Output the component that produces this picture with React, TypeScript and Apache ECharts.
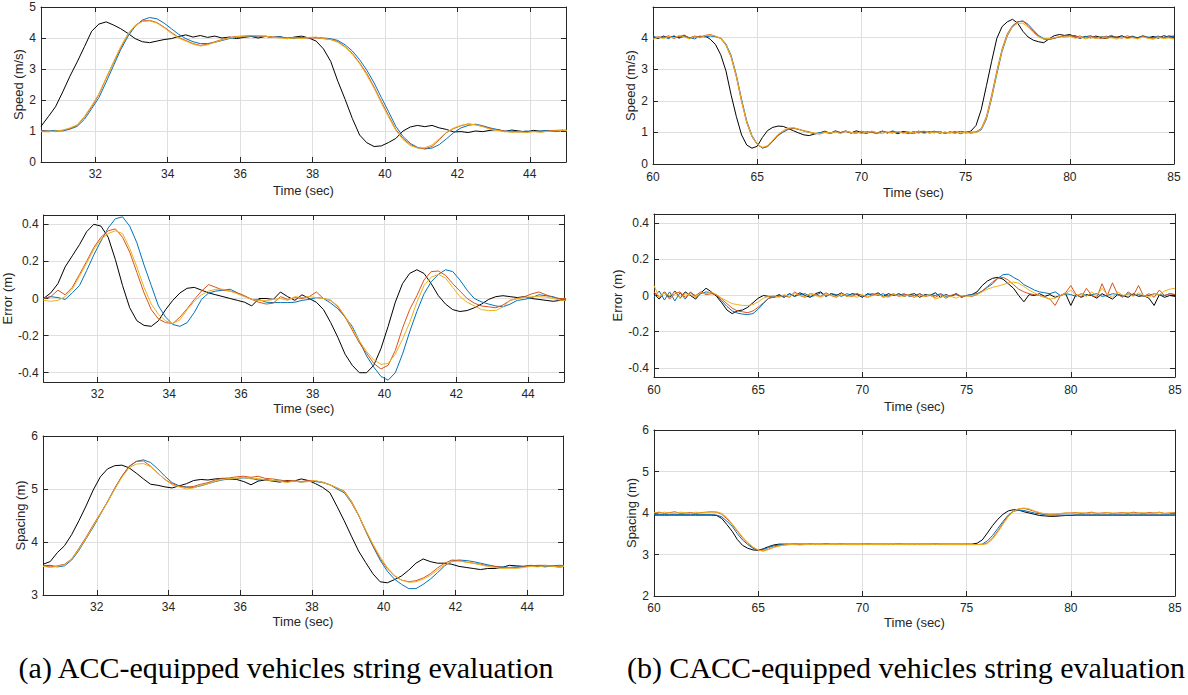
import React, { useEffect, useRef } from "react";
import * as echarts from "echarts";

// ---------------- DATA ----------------
// (a) ACC, sampled every 0.2 s
const timeAcc = [
  30.5, 30.7, 30.9, 31.1, 31.3, 31.5, 31.7, 31.9, 32.1, 32.3,
  32.5, 32.7, 32.9, 33.1, 33.3, 33.5, 33.7, 33.9, 34.1, 34.3,
  34.5, 34.7, 34.9, 35.1, 35.3, 35.5, 35.7, 35.9, 36.1, 36.3,
  36.5, 36.7, 36.9, 37.1, 37.3, 37.5, 37.7, 37.9, 38.1, 38.3,
  38.5, 38.7, 38.9, 39.1, 39.3, 39.5, 39.7, 39.9, 40.1, 40.3,
  40.5, 40.7, 40.9, 41.1, 41.3, 41.5, 41.7, 41.9, 42.1, 42.3,
  42.5, 42.7, 42.9, 43.1, 43.3, 43.5, 43.7, 43.9, 44.1, 44.3,
  44.5, 44.7, 44.9, 45.1,
];

const accSpeedBlack = [
  1.15, 1.46, 1.78, 2.26, 2.77, 3.23, 3.72, 4.22, 4.45, 4.52,
  4.42, 4.3, 4.15, 3.98, 3.88, 3.85, 3.9, 3.95, 3.98, 4.05,
  4.1, 4.03, 4.08, 4.02, 4.06, 4.0, 4.03, 3.98, 4.02, 4.05,
  4.0, 4.05, 4.02, 4.04, 3.98, 4.03, 4.06, 4.0, 3.9, 3.65,
  3.25, 2.6, 2.02, 1.4, 0.87, 0.62, 0.5, 0.52, 0.63, 0.76,
  1.0, 1.13, 1.18, 1.14, 1.18, 1.1, 1.05, 0.97, 0.98, 0.95,
  1.0, 0.98, 1.02, 1.05, 0.98, 1.03, 1.0, 0.97, 1.02, 0.99,
  1.01, 0.98, 1.02, 0.97,
];
const accSpeedBlue = [
  1.02, 1.0, 1.02, 1.0, 1.06, 1.15, 1.38, 1.72, 2.08, 2.58,
  3.1, 3.62, 4.05, 4.38, 4.58, 4.66, 4.62, 4.48, 4.3, 4.12,
  3.98, 3.88, 3.82, 3.82, 3.86, 3.92, 3.98, 4.02, 4.04, 4.06,
  4.03, 4.06, 4.02, 4.04, 4.0, 3.98, 4.02, 4.0, 4.02, 4.0,
  3.98, 3.92, 3.78, 3.58, 3.3, 2.96, 2.55, 2.08, 1.62, 1.15,
  0.82, 0.6, 0.47, 0.42, 0.45, 0.56, 0.75, 0.95, 1.1, 1.18,
  1.22, 1.17, 1.1, 1.05, 1.0, 1.0, 0.97, 1.0, 0.98, 1.0,
  1.02, 0.99, 1.02, 0.98,
];
const accSpeedOrange = [
  1.0, 1.0, 0.98, 1.02, 1.08, 1.18, 1.45, 1.78, 2.18, 2.7,
  3.2, 3.68, 4.12, 4.4, 4.55, 4.57, 4.5, 4.35, 4.18, 4.02,
  3.92, 3.82, 3.76, 3.8, 3.88, 3.95, 4.02, 4.05, 4.06, 4.08,
  4.07, 4.05, 4.03, 4.02, 4.0, 4.02, 4.0, 4.0, 4.0, 3.98,
  3.95, 3.88, 3.72, 3.5, 3.2, 2.85, 2.42, 1.95, 1.5, 1.05,
  0.76, 0.56, 0.46, 0.43, 0.5, 0.72, 0.95, 1.08, 1.17, 1.23,
  1.2, 1.15, 1.08, 1.03, 1.0, 0.97, 0.98, 0.96, 0.99, 0.97,
  1.0, 1.02, 1.03, 1.02,
];
const accSpeedYellow = [
  0.98, 0.97, 1.0, 1.03, 1.1, 1.2, 1.47, 1.82, 2.2, 2.72,
  3.22, 3.72, 4.13, 4.4, 4.53, 4.55, 4.48, 4.33, 4.15, 4.0,
  3.9, 3.8, 3.74, 3.78, 3.86, 3.94, 4.0, 4.04, 4.06, 4.07,
  4.08, 4.06, 4.02, 4.0, 3.98, 4.0, 3.98, 4.02, 4.03, 3.98,
  3.95, 3.86, 3.7, 3.47, 3.17, 2.8, 2.38, 1.9, 1.45, 1.02,
  0.72, 0.53, 0.45, 0.46, 0.55, 0.75, 0.96, 1.1, 1.18, 1.22,
  1.2, 1.14, 1.06, 1.02, 0.98, 0.96, 0.97, 0.95, 0.98, 0.96,
  0.99, 1.0, 1.02, 1.0,
];

const accErrBlack = [
  0.0, 0.03, 0.08, 0.17, 0.23, 0.29, 0.36, 0.4, 0.39, 0.33,
  0.21, 0.07, -0.05, -0.12, -0.145, -0.15, -0.12, -0.06, -0.01, 0.03,
  0.055, 0.06, 0.045, 0.03, 0.02, 0.01, 0.0, -0.01, -0.02, -0.04,
  0.0, 0.0, -0.005, 0.035, 0.01, -0.01, 0.02, 0.0, -0.02, -0.06,
  -0.13, -0.21, -0.3, -0.36, -0.4, -0.4, -0.36, -0.27, -0.15, -0.02,
  0.08, 0.135, 0.155, 0.135, 0.08, 0.015, -0.03, -0.06, -0.07, -0.065,
  -0.05, -0.03, -0.005, 0.01, 0.015, 0.01, 0.005, 0.01, 0.0, -0.005,
  -0.01, -0.015, -0.01, -0.01,
];
const accErrBlue = [
  0.0, 0.01, 0.005, -0.005, 0.03, 0.07, 0.15, 0.235, 0.31, 0.38,
  0.43, 0.44, 0.39, 0.3, 0.18, 0.07, -0.04, -0.1, -0.14, -0.15,
  -0.13, -0.075, -0.005, 0.03, 0.04, 0.045, 0.05, 0.03, 0.012, -0.005,
  -0.005, -0.02, -0.022, -0.022, -0.022, -0.02, -0.01, -0.005, 0.005, 0.0,
  -0.025, -0.055, -0.1, -0.15, -0.23, -0.31, -0.37, -0.42, -0.44, -0.4,
  -0.3, -0.18, -0.07, 0.025, 0.09, 0.13, 0.155, 0.145, 0.1, 0.045,
  0.0, -0.018, -0.03, -0.04, -0.045, -0.03, -0.01, -0.005, 0.005, 0.02,
  0.015, 0.01, -0.005, -0.005,
];
const accErrOrange = [
  0.0, 0.01, 0.045, 0.02, 0.06, 0.13, 0.2, 0.275, 0.33, 0.365,
  0.375, 0.33, 0.25, 0.14, 0.03, -0.06, -0.11, -0.13, -0.135, -0.1,
  -0.055, -0.005, 0.04, 0.075, 0.06, 0.045, 0.04, 0.03, 0.015, -0.005,
  -0.02, -0.03, -0.025, 0.01, -0.005, 0.005, 0.0, 0.01, 0.035, 0.0,
  -0.01, -0.045, -0.1, -0.17, -0.24, -0.295, -0.35, -0.38, -0.36, -0.28,
  -0.16, -0.06, 0.015, 0.1, 0.145, 0.148, 0.125, 0.08, 0.04, 0.0,
  -0.025, -0.04, -0.045, -0.05, -0.035, -0.01, 0.0, 0.01, 0.025, 0.035,
  0.02, 0.005, 0.0, 0.0,
];
const accErrYellow = [
  -0.01, -0.015, -0.01, 0.01, 0.05, 0.12, 0.19, 0.265, 0.32, 0.35,
  0.365, 0.35, 0.27, 0.17, 0.06, -0.03, -0.085, -0.12, -0.135, -0.115,
  -0.06, -0.015, 0.02, 0.04, 0.05, 0.05, 0.04, 0.025, 0.01, -0.005,
  -0.01, -0.012, -0.005, 0.0, -0.01, 0.01, 0.005, 0.01, 0.005, 0.0,
  -0.01, -0.04, -0.095, -0.16, -0.23, -0.285, -0.33, -0.355, -0.35, -0.3,
  -0.22, -0.13, -0.02, 0.07, 0.115, 0.13, 0.11, 0.06, 0.01, -0.02,
  -0.04, -0.06, -0.065, -0.065, -0.045, -0.01, 0.0, 0.005, 0.01, 0.01,
  0.008, 0.0, -0.01, -0.01,
];

const accGapBlack = [
  3.58, 3.63, 3.8, 3.93, 4.14, 4.4, 4.68, 4.98, 5.23, 5.38,
  5.44, 5.45, 5.4, 5.3, 5.19, 5.09, 5.07, 5.04, 5.02, 5.06,
  5.1, 5.16, 5.18, 5.17, 5.19, 5.2, 5.19, 5.18, 5.14, 5.08,
  5.15, 5.17, 5.15, 5.13, 5.16, 5.15, 5.19, 5.16, 5.1, 5.03,
  4.93, 4.67, 4.4, 4.11, 3.83, 3.61, 3.4, 3.25, 3.23, 3.29,
  3.36, 3.47, 3.6, 3.68, 3.63, 3.6, 3.6, 3.58, 3.54, 3.52,
  3.5, 3.48, 3.5, 3.5, 3.52, 3.56, 3.55, 3.54, 3.55, 3.54,
  3.55, 3.54, 3.53, 3.54,
];
const accGapBlue = [
  3.55, 3.56, 3.53, 3.55, 3.66, 3.84, 4.06, 4.28, 4.52, 4.76,
  5.0, 5.24, 5.42, 5.52, 5.55, 5.5, 5.38, 5.24, 5.12, 5.06,
  5.04, 5.03, 5.06, 5.1, 5.14, 5.17, 5.19, 5.2, 5.21, 5.2,
  5.17, 5.18, 5.16, 5.15, 5.14, 5.15, 5.13, 5.15, 5.14, 5.12,
  5.08, 5.0, 4.93, 4.74, 4.5, 4.2, 3.92, 3.66, 3.45, 3.3,
  3.2, 3.12, 3.12, 3.2, 3.3, 3.42, 3.55, 3.64, 3.66, 3.65,
  3.63, 3.6, 3.57, 3.54, 3.53, 3.52, 3.53, 3.54, 3.56, 3.55,
  3.53, 3.55, 3.56, 3.55,
];
const accGapOrange = [
  3.55, 3.53, 3.55, 3.58, 3.68, 3.88, 4.09, 4.32, 4.54, 4.76,
  5.02, 5.24, 5.43, 5.52, 5.53, 5.43, 5.3, 5.18, 5.1, 5.05,
  5.03, 5.05, 5.09, 5.12, 5.17, 5.2, 5.21, 5.23, 5.24, 5.22,
  5.24, 5.2, 5.19, 5.17, 5.15, 5.16, 5.14, 5.16, 5.15, 5.13,
  5.08, 5.02, 4.96, 4.77, 4.51, 4.22, 3.94, 3.69, 3.5, 3.36,
  3.28, 3.25, 3.27, 3.32, 3.4, 3.51, 3.6, 3.66, 3.65, 3.62,
  3.6, 3.58, 3.55, 3.54, 3.52, 3.51, 3.52, 3.53, 3.55, 3.56,
  3.56, 3.55, 3.55, 3.56,
];
const accGapYellow = [
  3.54, 3.52, 3.54, 3.57, 3.68, 3.86, 4.07, 4.3, 4.53, 4.75,
  5.0, 5.22, 5.4, 5.47, 5.48, 5.42, 5.3, 5.18, 5.08, 5.04,
  5.0, 5.02, 5.07, 5.1, 5.15, 5.18, 5.2, 5.2, 5.22, 5.19,
  5.2, 5.17, 5.16, 5.15, 5.12, 5.15, 5.13, 5.14, 5.16, 5.12,
  5.08, 5.02, 4.95, 4.75, 4.5, 4.22, 3.96, 3.72, 3.52, 3.37,
  3.28, 3.24, 3.25, 3.3, 3.37, 3.47, 3.57, 3.63, 3.64, 3.62,
  3.6, 3.57, 3.54, 3.52, 3.5, 3.51, 3.5, 3.52, 3.54, 3.53,
  3.55, 3.54, 3.53, 3.55,
];

// (b) CACC, sampled every 0.25 s
const timeCacc = [
  60, 60.25, 60.5, 60.75, 61, 61.25, 61.5, 61.75, 62, 62.25,
  62.5, 62.75, 63, 63.25, 63.5, 63.75, 64, 64.25, 64.5, 64.75,
  65, 65.25, 65.5, 65.75, 66, 66.25, 66.5, 66.75, 67, 67.25,
  67.5, 67.75, 68, 68.25, 68.5, 68.75, 69, 69.25, 69.5, 69.75,
  70, 70.25, 70.5, 70.75, 71, 71.25, 71.5, 71.75, 72, 72.25,
  72.5, 72.75, 73, 73.25, 73.5, 73.75, 74, 74.25, 74.5, 74.75,
  75, 75.25, 75.5, 75.75, 76, 76.25, 76.5, 76.75, 77, 77.25,
  77.5, 77.75, 78, 78.25, 78.5, 78.75, 79, 79.25, 79.5, 79.75,
  80, 80.25, 80.5, 80.75, 81, 81.25, 81.5, 81.75, 82, 82.25,
  82.5, 82.75, 83, 83.25, 83.5, 83.75, 84, 84.25, 84.5, 84.75,
  85,
];

const caccSpeedBlack = [
  4.02, 3.97, 4.05, 3.99, 4.04, 4.0, 4.07, 3.98, 4.03, 4.01,
  4.05, 3.95, 3.78, 3.46, 2.95, 2.18, 1.5, 0.92, 0.6, 0.5,
  0.56, 0.84, 1.06, 1.16, 1.2, 1.19, 1.12, 1.05, 0.98, 0.92,
  0.9, 0.95, 0.98, 1.04, 0.97, 1.05, 0.99, 1.03, 0.98, 1.05,
  1.0, 0.97, 1.03, 0.98, 1.04, 0.99, 1.02, 0.96, 1.03, 1.0,
  0.97, 1.04, 0.98, 1.02, 0.99, 1.03, 0.97, 1.01, 0.98, 1.03,
  1.0, 1.04, 1.22, 1.72, 2.48, 3.25, 3.98, 4.35, 4.5, 4.58,
  4.46, 4.2, 4.02, 3.92, 3.87, 3.84, 3.96, 4.06, 4.1, 4.07,
  4.1, 4.02, 3.98, 4.04, 3.99, 4.05, 4.0, 3.97, 4.04, 4.01,
  4.06, 3.98, 4.03, 4.0, 4.05, 3.99, 4.04, 3.98, 4.06, 4.02,
  4.05,
];
const caccSpeedBlue = [
  4.05, 3.99, 4.03, 3.97, 4.06, 3.98, 4.04, 4.0, 3.96, 4.05,
  4.02, 4.05, 4.03, 3.99, 3.8, 3.44, 2.82, 2.05, 1.36, 0.9,
  0.64, 0.5, 0.55, 0.72, 0.9, 1.01, 1.1, 1.13, 1.09, 1.04,
  1.0, 0.96, 0.99, 1.03, 0.96, 1.02, 0.98, 1.04, 1.0, 0.97,
  1.04, 0.99, 1.02, 0.97, 1.03, 0.98, 1.05, 0.99, 1.01, 0.96,
  1.03, 0.98, 1.02, 0.99, 1.04, 0.97, 1.01, 0.98, 1.03, 0.96,
  1.01, 0.98, 1.0, 1.08, 1.42, 2.08, 2.85, 3.56, 4.05, 4.35,
  4.5, 4.53, 4.42, 4.24, 4.07, 3.97, 3.95, 3.98, 4.02, 4.06,
  4.04, 4.07, 3.99, 4.03, 4.06, 3.98, 4.04, 4.01, 4.07, 3.99,
  4.03, 4.0, 4.05, 3.98, 4.06, 4.02, 4.0, 4.05, 3.99, 4.06,
  4.03,
];
const caccSpeedOrange = [
  3.98, 4.03, 4.0, 4.06, 3.97, 4.04, 4.08, 3.99, 4.05, 4.02,
  4.07, 4.1, 4.04, 3.97, 3.76, 3.38, 2.75, 1.98, 1.3, 0.86,
  0.62, 0.51, 0.57, 0.75, 0.92, 1.03, 1.12, 1.14, 1.1, 1.05,
  1.02, 0.97, 0.95, 1.0, 0.97, 1.03, 1.0, 1.05, 0.98, 1.02,
  0.97, 1.03, 1.0, 0.96, 1.04, 1.0, 0.98, 1.03, 0.99, 1.02,
  0.97, 1.01, 1.04, 0.98, 1.0, 1.03, 0.97, 1.02, 0.99, 1.03,
  0.98, 1.0, 1.02, 1.12, 1.5, 2.18, 2.95, 3.64, 4.12, 4.38,
  4.5, 4.52, 4.38, 4.2, 4.04, 3.95, 3.94, 3.98, 4.03, 4.05,
  4.07, 4.02, 4.05, 3.98, 4.04, 4.01, 3.97, 4.05, 4.0, 4.03,
  3.98, 4.06, 4.01, 3.97, 4.04, 4.0, 3.96, 4.03, 3.99, 4.02,
  3.98,
];
const caccSpeedYellow = [
  3.95, 4.01, 3.97, 4.03, 3.99, 4.07, 4.02, 3.96, 4.04, 3.99,
  4.06, 4.08, 4.05, 3.98, 3.78, 3.4, 2.78, 2.0, 1.32, 0.88,
  0.63, 0.53, 0.58, 0.76, 0.94, 1.06, 1.14, 1.15, 1.1, 1.04,
  1.0, 0.98, 0.96, 1.01, 0.98, 1.02, 0.96, 1.03, 1.0, 0.97,
  1.02, 0.98, 1.04, 0.99, 0.96, 1.02, 0.99, 1.03, 0.97, 1.01,
  0.98, 1.03, 0.96, 1.01, 0.99, 1.02, 0.98, 1.0, 0.97, 1.01,
  0.99, 1.02, 0.99, 1.1, 1.46, 2.12, 2.9, 3.6, 4.08, 4.34,
  4.45, 4.46, 4.33, 4.16, 4.02, 3.96, 3.97, 4.0, 4.03, 4.01,
  4.04, 3.98, 4.02, 3.96, 4.01, 3.97, 4.03, 3.98, 4.0, 3.95,
  4.02, 3.97, 4.0, 3.96, 4.02, 3.98, 3.95, 4.01, 3.97, 3.99,
  3.96,
];

const caccErrBlack = [
  0.01, -0.02, 0.02, -0.01, 0.025, -0.015, 0.02, 0.0, -0.02, 0.015,
  0.04, 0.02, -0.005, -0.04, -0.08, -0.1, -0.085, -0.08, -0.065, -0.04,
  -0.015, 0.0, -0.005, -0.01, 0.005, -0.01, 0.01, -0.005, 0.015, 0.0,
  -0.01, 0.01, 0.02, -0.005, 0.01, 0.0, 0.015, -0.005, 0.01, 0.005,
  -0.01, 0.01, 0.0, 0.015, -0.005, 0.01, 0.0, 0.01, -0.005, 0.005,
  0.01, -0.01, 0.005, 0.0, 0.015, -0.01, 0.005, -0.005, 0.01, -0.01,
  0.0, 0.005, 0.02, 0.055, 0.08, 0.095, 0.1, 0.09, 0.065, 0.04,
  0.0, -0.035, 0.005, 0.0, 0.01, -0.005, 0.005, -0.01, 0.0, 0.01,
  -0.055, 0.005, -0.01, 0.005, 0.0, -0.015, 0.01, -0.005, -0.02, 0.005,
  0.0, -0.01, 0.01, -0.005, 0.0, -0.015, -0.055, 0.005, -0.01, 0.0,
  -0.005,
];
const caccErrBlue = [
  -0.01, 0.025, -0.025, 0.02, -0.03, 0.015, -0.02, 0.02, -0.01, 0.01,
  0.02, 0.015, 0.0, -0.03, -0.06, -0.085, -0.097, -0.103, -0.105, -0.1,
  -0.075, -0.045, -0.015, -0.008, 0.0, -0.01, 0.01, -0.005, 0.005, 0.01,
  -0.005, 0.0, 0.015, -0.005, 0.01, 0.005, -0.005, 0.01, 0.0, 0.01,
  -0.005, 0.005, 0.01, 0.0, 0.01, -0.005, 0.005, 0.0, 0.01, -0.005,
  0.0, 0.01, -0.005, 0.005, 0.0, 0.01, -0.005, 0.0, 0.005, -0.005,
  0.0, 0.005, 0.01, 0.025, 0.045, 0.065, 0.095, 0.115, 0.118, 0.1,
  0.085, 0.06, 0.045, 0.03, 0.02, 0.015, 0.01, 0.02, 0.0, 0.01,
  0.005, -0.005, 0.01, 0.0, 0.005, 0.01, -0.005, 0.0, 0.01, 0.005,
  -0.005, 0.01, 0.0, 0.005, -0.005, 0.0, 0.01, 0.005, 0.0, 0.01,
  0.005,
];
const caccErrOrange = [
  0.02, -0.01, 0.015, -0.02, 0.01, 0.02, -0.01, 0.015, 0.0, 0.02,
  0.005, 0.01, 0.005, -0.02, -0.045, -0.07, -0.085, -0.09, -0.095, -0.085,
  -0.065, -0.04, -0.015, -0.01, -0.005, 0.0, -0.01, 0.02, 0.0, -0.01,
  0.01, 0.005, -0.005, 0.015, 0.0, -0.01, 0.01, 0.0, -0.005, 0.01,
  0.0, -0.01, 0.005, 0.01, -0.01, 0.0, 0.01, -0.005, 0.005, 0.0,
  -0.01, 0.01, -0.005, 0.0, -0.01, 0.005, -0.015, 0.0, 0.01, -0.005,
  0.0, -0.005, 0.005, 0.025, 0.05, 0.075, 0.095, 0.1, 0.085, 0.06,
  0.035, 0.02, 0.01, 0.005, 0.0, -0.01, -0.02, -0.055, 0.0, 0.015,
  0.055, 0.005, -0.01, 0.04, 0.0, -0.01, 0.065, 0.0, 0.07, 0.005,
  -0.01, 0.02, 0.0, 0.055, -0.005, 0.01, -0.01, 0.03, 0.0, 0.01,
  0.005,
];
const caccErrYellow = [
  0.055, -0.01, 0.015, 0.0, 0.02, -0.015, 0.01, 0.005, -0.01, 0.015,
  0.01, 0.02, 0.005, -0.015, -0.03, -0.045, -0.05, -0.055, -0.055, -0.05,
  -0.035, -0.015, -0.005, 0.0, -0.01, 0.005, -0.005, 0.01, 0.0, -0.005,
  0.01, 0.0, -0.01, 0.005, 0.0, -0.005, 0.01, -0.005, 0.0, -0.01,
  0.005, -0.01, 0.0, 0.005, -0.005, -0.01, 0.005, 0.0, -0.005, 0.005,
  -0.01, 0.0, -0.005, 0.005, -0.02, -0.01, 0.0, -0.005, -0.015, 0.0,
  -0.005, 0.0, 0.005, 0.02, 0.035, 0.045, 0.052, 0.06, 0.07, 0.074,
  0.068, 0.05, 0.03, 0.015, 0.0, -0.01, -0.02, -0.015, 0.0, 0.01,
  0.03, 0.0, 0.01, -0.005, 0.02, 0.0, 0.04, 0.005, -0.01, 0.02,
  0.0, 0.01, -0.005, 0.015, 0.0, -0.01, 0.01, 0.005, 0.025, 0.035,
  0.04,
];

const caccGapBlack = [
  3.95, 3.95, 3.95, 3.95, 3.95, 3.95, 3.95, 3.95, 3.95, 3.95,
  3.95, 3.95, 3.94, 3.87, 3.72, 3.56, 3.36, 3.22, 3.15, 3.11,
  3.1, 3.14, 3.19, 3.23, 3.25, 3.25, 3.25, 3.25, 3.25, 3.25,
  3.25, 3.25, 3.25, 3.25, 3.25, 3.25, 3.25, 3.25, 3.25, 3.25,
  3.25, 3.25, 3.25, 3.25, 3.25, 3.25, 3.25, 3.25, 3.25, 3.25,
  3.25, 3.25, 3.25, 3.25, 3.25, 3.25, 3.25, 3.25, 3.25, 3.25,
  3.25, 3.25, 3.27, 3.35, 3.52, 3.7, 3.85, 3.97, 4.05, 4.08,
  4.07, 4.03, 4.0, 3.97, 3.94, 3.93, 3.92, 3.92, 3.93, 3.94,
  3.94, 3.95, 3.95, 3.95, 3.95, 3.95, 3.95, 3.95, 3.95, 3.95,
  3.95, 3.95, 3.95, 3.95, 3.95, 3.95, 3.95, 3.95, 3.95, 3.95,
  3.95,
];
const caccGapBlue = [
  3.96, 3.96, 3.96, 3.96, 3.96, 3.96, 3.96, 3.96, 3.96, 3.96,
  3.96, 3.96, 3.95, 3.91, 3.8, 3.68, 3.5, 3.35, 3.24, 3.15,
  3.1, 3.12, 3.17, 3.21, 3.23, 3.24, 3.24, 3.24, 3.24, 3.24,
  3.24, 3.24, 3.24, 3.24, 3.24, 3.24, 3.24, 3.24, 3.24, 3.24,
  3.24, 3.24, 3.24, 3.24, 3.24, 3.24, 3.24, 3.24, 3.24, 3.24,
  3.24, 3.24, 3.24, 3.24, 3.24, 3.24, 3.24, 3.24, 3.24, 3.24,
  3.24, 3.24, 3.24, 3.25, 3.33, 3.46, 3.63, 3.8, 3.95, 4.04,
  4.07, 4.06, 4.03, 4.0, 3.98, 3.96, 3.95, 3.95, 3.95, 3.95,
  3.95, 3.95, 3.95, 3.95, 3.95, 3.95, 3.95, 3.95, 3.95, 3.95,
  3.95, 3.95, 3.95, 3.95, 3.95, 3.95, 3.95, 3.95, 3.95, 3.95,
  3.95,
];
const caccGapOrange = [
  4.0, 4.02, 3.99, 4.01, 4.03, 3.99, 4.0, 4.01, 3.99, 4.01,
  4.02, 4.03, 4.02, 3.97, 3.86, 3.72, 3.56, 3.4, 3.27, 3.17,
  3.1, 3.09, 3.13, 3.18, 3.21, 3.23, 3.24, 3.25, 3.24, 3.24,
  3.25, 3.24, 3.24, 3.26, 3.24, 3.24, 3.25, 3.24, 3.24, 3.24,
  3.24, 3.25, 3.24, 3.24, 3.24, 3.24, 3.24, 3.25, 3.24, 3.24,
  3.24, 3.24, 3.24, 3.24, 3.25, 3.24, 3.24, 3.24, 3.24, 3.24,
  3.24, 3.24, 3.24, 3.24, 3.28, 3.4, 3.57, 3.76, 3.93, 4.05,
  4.1, 4.11, 4.08, 4.04, 4.0, 3.98, 3.97, 3.97, 3.98, 4.0,
  4.0, 4.01, 3.99, 4.0, 4.02, 3.99, 4.0, 4.01, 3.99, 4.0,
  4.01, 3.99, 4.02, 4.0, 3.99, 4.01, 4.0, 4.02, 3.99, 4.0,
  4.01,
];
const caccGapYellow = [
  4.01, 3.99, 4.02, 4.0, 3.99, 4.02, 4.01, 3.98, 4.02, 4.0,
  4.01, 4.02, 4.03, 3.99, 3.89, 3.74, 3.58, 3.42, 3.29, 3.18,
  3.11, 3.08, 3.12, 3.17, 3.2, 3.23, 3.24, 3.24, 3.23, 3.24,
  3.24, 3.24, 3.24, 3.24, 3.24, 3.24, 3.24, 3.24, 3.24, 3.24,
  3.24, 3.24, 3.24, 3.24, 3.24, 3.24, 3.24, 3.24, 3.24, 3.24,
  3.24, 3.24, 3.24, 3.24, 3.24, 3.24, 3.24, 3.24, 3.24, 3.24,
  3.24, 3.24, 3.24, 3.24, 3.26, 3.37, 3.54, 3.73, 3.91, 4.04,
  4.1, 4.12, 4.1, 4.05, 4.01, 3.98, 3.97, 3.98, 3.99, 4.0,
  3.99, 4.0, 4.01, 3.99, 4.0, 4.0, 3.98, 4.01, 4.0, 3.99,
  4.0, 4.01, 3.99, 4.0, 4.01, 3.98, 4.0, 4.01, 3.99, 4.0,
  4.0,
];

// tick values
const ticksAccTime = [32, 34, 36, 38, 40, 42, 44];
const ticksCaccTime = [60, 65, 70, 75, 80, 85];
const ticksSpeedAcc = [0, 1, 2, 3, 4, 5];
const ticksSpeedCacc = [0, 1, 2, 3, 4];
const ticksError = [-0.4, -0.2, 0, 0.2, 0.4];
const ticksGapAcc = [3, 4, 5, 6];
const ticksGapCacc = [2, 3, 4, 5, 6];

const captionA = "(a) ACC-equipped vehicles string evaluation";
const captionB = "(b) CACC-equipped vehicles string evaluation";

// ---------------- STYLE / LAYOUT ----------------
const FONT = '"Liberation Sans", Arial, Helvetica, sans-serif';
const AX = "#262626";
const GRIDC = "#dfdfdf";
const COLORS = ["#000000", "#0072BD", "#D95319", "#EDB120"];

type Panel = {
  box: number[];
  xMin: number; xMax: number; xTicks: number[];
  yMin: number; yMax: number; yTicks: number[];
  yName: string; yGap: number; xLabelMargin: number; xNameGap: number;
  t: number[]; s: number[][];
};

const panels: Panel[] = [
  { box: [41, 7, 525, 155], xMin: 30.5, xMax: 45, xTicks: ticksAccTime, yMin: 0, yMax: 5, yTicks: ticksSpeedAcc,
    yName: "Speed (m/s)", yGap: 14, xLabelMargin: 6, xNameGap: 22, t: timeAcc,
    s: [accSpeedBlack, accSpeedBlue, accSpeedOrange, accSpeedYellow] },
  { box: [43, 215, 521, 167], xMin: 30.5, xMax: 45, xTicks: ticksAccTime, yMin: -0.45, yMax: 0.45, yTicks: ticksError,
    yName: "Error (m)", yGap: 24, xLabelMargin: 6, xNameGap: 20, t: timeAcc,
    s: [accErrBlack, accErrBlue, accErrOrange, accErrYellow] },
  { box: [43, 436, 520, 159], xMin: 30.5, xMax: 45, xTicks: ticksAccTime, yMin: 3, yMax: 6, yTicks: ticksGapAcc,
    yName: "Spacing (m)", yGap: 14, xLabelMargin: 6, xNameGap: 20, t: timeAcc,
    s: [accGapBlack, accGapBlue, accGapOrange, accGapYellow] },
  { box: [653, 7, 521, 157], xMin: 60, xMax: 85, xTicks: ticksCaccTime, yMin: 0, yMax: 4.97, yTicks: ticksSpeedCacc,
    yName: "Speed (m/s)", yGap: 14, xLabelMargin: 7, xNameGap: 22, t: timeCacc,
    s: [caccSpeedBlack, caccSpeedBlue, caccSpeedOrange, caccSpeedYellow] },
  { box: [654, 214, 521, 163], xMin: 60, xMax: 85, xTicks: ticksCaccTime, yMin: -0.45, yMax: 0.45, yTicks: ticksError,
    yName: "Error (m)", yGap: 22, xLabelMargin: 7, xNameGap: 23, t: timeCacc,
    s: [caccErrBlack, caccErrBlue, caccErrOrange, caccErrYellow] },
  { box: [654, 430, 521, 166], xMin: 60, xMax: 85, xTicks: ticksCaccTime, yMin: 2, yMax: 6, yTicks: ticksGapCacc,
    yName: "Spacing (m)", yGap: 15, xLabelMargin: 6, xNameGap: 20, t: timeCacc,
    s: [caccGapBlack, caccGapBlue, caccGapOrange, caccGapYellow] },
];

function buildOption() {
  const grid: any[] = [];
  const xAxis: any[] = [];
  const yAxis: any[] = [];
  const series: any[] = [];
  const line = { show: true, onZero: false, lineStyle: { color: AX, width: 1 } };
  const tick = (vals: number[]) => ({ show: true, inside: true, length: 5, customValues: vals, lineStyle: { color: AX, width: 1 } });
  const label = (vals: number[], margin: number) => ({ show: true, customValues: vals, color: AX, fontSize: 12, fontFamily: FONT, margin });
  const nameStyle = { color: AX, fontSize: 13, fontFamily: FONT };

  panels.forEach((p, i) => {
    grid.push({ left: p.box[0], top: p.box[1], width: p.box[2], height: p.box[3], containLabel: false, show: false });
    xAxis.push({
      type: "value", gridIndex: i, position: "bottom", min: p.xMin, max: p.xMax,
      axisLine: line, axisTick: tick(p.xTicks), axisLabel: label(p.xTicks, p.xLabelMargin),
      splitLine: { show: true, lineStyle: { color: GRIDC, width: 1 } },
      name: "Time (sec)", nameLocation: "middle", nameGap: p.xNameGap, nameTextStyle: nameStyle,
    });
    xAxis.push({
      type: "value", gridIndex: i, position: "top", min: p.xMin, max: p.xMax,
      axisLine: line, axisTick: tick(p.xTicks), axisLabel: { show: false }, splitLine: { show: false },
    });
    yAxis.push({
      type: "value", gridIndex: i, position: "left", min: p.yMin, max: p.yMax,
      axisLine: line, axisTick: tick(p.yTicks), axisLabel: label(p.yTicks, 5),
      splitLine: { show: true, lineStyle: { color: GRIDC, width: 1 } },
      name: p.yName, nameLocation: "middle", nameGap: p.yGap, nameRotate: 90, nameTextStyle: nameStyle,
    });
    yAxis.push({
      type: "value", gridIndex: i, position: "right", min: p.yMin, max: p.yMax,
      axisLine: line, axisTick: tick(p.yTicks), axisLabel: { show: false }, splitLine: { show: false },
    });
    p.s.forEach((vals, k) => {
      series.push({
        type: "line", xAxisIndex: 2 * i, yAxisIndex: 2 * i,
        data: p.t.map((t, j) => [t, vals[j]]),
        symbol: "none", showSymbol: false, silent: true, clip: true, z: 2 + k,
        lineStyle: { color: COLORS[k], width: 1 }, itemStyle: { color: COLORS[k] },
      });
    });
  });

  const capStyle = (text: string) => ({
    text, fill: "#000", font: '30px "Liberation Serif", "DejaVu Serif", serif',
    textAlign: "center", textVerticalAlign: "middle",
  });

  return {
    animation: false,
    backgroundColor: "#ffffff",
    grid, xAxis, yAxis, series,
    graphic: [
      { type: "text", x: 286, y: 667, style: capStyle(captionA), silent: true },
      { type: "text", x: 906, y: 667, style: capStyle(captionB), silent: true },
    ],
  };
}

export default function App() {
  const ref = useRef<HTMLDivElement>(null);
  useEffect(() => {
    if (!ref.current) return;
    const chart = echarts.init(ref.current, undefined, { renderer: "svg" });
    chart.setOption(buildOption() as any);
    return () => chart.dispose();
  }, []);
  return (
    <div
      ref={ref}
      style={{ position: "absolute", left: 0, top: 0, width: 1188, height: 695, background: "#fff" }}
    />
  );
}
